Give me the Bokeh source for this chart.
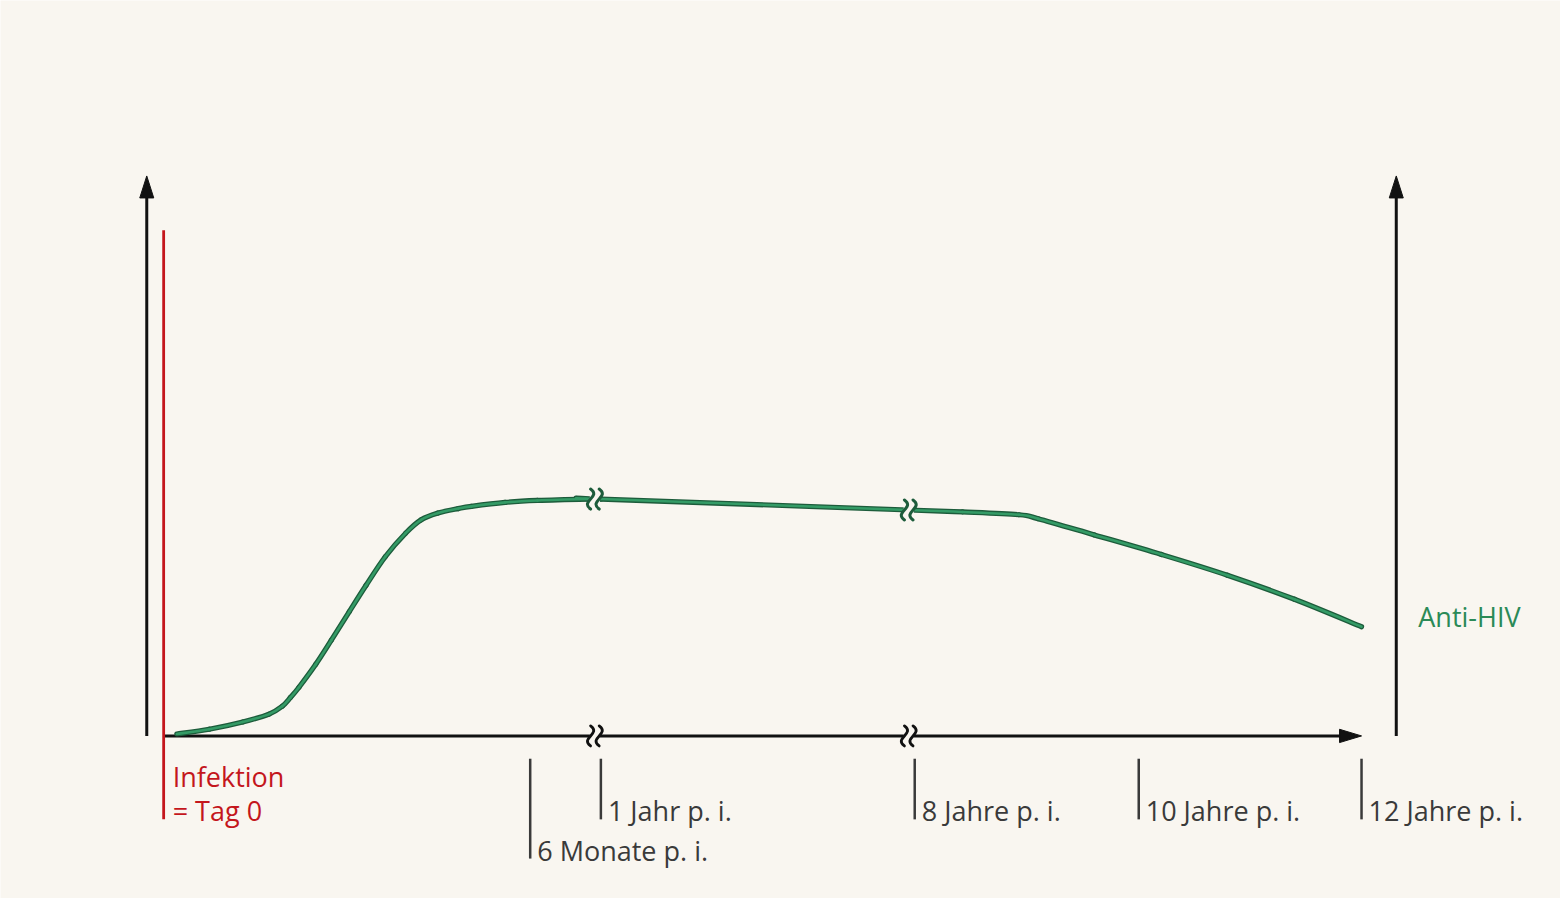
import numpy as np
from bokeh.plotting import figure
from bokeh.models import Range1d, ColumnDataSource
from bokeh.core.properties import value
from bokeh.embed import file_html
from bokeh.resources import INLINE

# ---------------- data (axis units: x 0 = infection, 100 = 12 years; y 0..100 = arrow tip)
curve_x = [1.1, 3.8, 6.6, 8.8, 9.9, 10.6, 11.3, 12.7, 14.0, 15.5, 16.9, 18.5, 20.2,
           21.5, 22.9, 24.6, 25.7, 28.5, 31.2, 35.4, 36.5, 62.2, 66.7, 71.4,
           73.0, 77.7, 83.3, 88.8, 94.4, 100.0]
curve_y = [0.35, 1.2, 2.5, 3.9, 5.3, 6.9, 8.7, 12.8, 17.1, 22.2, 26.9, 32.0, 36.2,
           38.6, 39.8, 40.6, 41.0, 41.7, 42.05, 42.3, 42.3, 40.35, 40.0, 39.5,
           38.8, 35.9, 32.4, 28.7, 24.4, 19.5]
series_label = "Anti-HIV"

tick_pos = [30.6, 36.5, 62.7, 81.4, 100.0]
tick_labels = ["6 Monate p. i.", "1 Jahr p. i.", "8 Jahre p. i.", "10 Jahre p. i.", "12 Jahre p. i."]
tick_row = [1, 0, 0, 0, 0]

break_x = [36.0, 62.2]

infection_x = 0.0
infection_labels = ["Infektion", "= Tag 0"]

# ---------------- styles
BG = "#f9f6f0"
INK = "#111111"
GRAY = "#3a3a3a"
RED = "#c4161c"
GREEN = "#349b66"
GREEN_DARK = "#1d5c3b"
GREEN_TEXT = "#2b8a57"
FONT = "Open Sans"
FS = "27px"
PXX = 12.04 * 1560 / 1568   # screen px per x unit
PXY = 5.65 * 898 / 906      # screen px per y unit

p = figure(width=1560, height=898,
           x_range=Range1d(-13.62, 116.61), y_range=Range1d(-29.03, 131.33),
           output_backend="svg", toolbar_location=None, min_border=0,
           background_fill_color=BG, border_fill_color=BG, outline_line_color=None,
           x_axis_location=None, y_axis_location=None)
p.grid.visible = False

left_axis_x = -1.41
right_axis_x = 102.9
y_top = 100.0
x_end = 100.0
headL, headW = 22.0, 14.0

# vertical axes
for ax in (left_axis_x, right_axis_x):
    p.segment(x0=[ax], y0=[0], x1=[ax], y1=[y_top - headL / PXY * 0.6], line_color=INK, line_width=3)
    p.patch(x=[ax, ax - headW / 2 / PXX, ax + headW / 2 / PXX],
            y=[y_top, y_top - headL / PXY, y_top - headL / PXY], color=INK)

# horizontal axis
p.segment(x0=[infection_x], y0=[0], x1=[x_end - headL / PXX * 0.6], y1=[0], line_color=INK, line_width=3)
p.patch(x=[x_end, x_end - headL / PXX, x_end - headL / PXX],
        y=[0, headW / 2 / PXY * 0.95, -headW / 2 / PXY * 0.95], color=INK)

# infection line
p.segment(x0=[infection_x], y0=[-14.9], x1=[infection_x], y1=[90.3], line_color=RED, line_width=2.8)

# curve: smooth Catmull-Rom bezier segments through the read points
cx = np.array(curve_x); cy = np.array(curve_y)
px_ = np.concatenate([[cx[0]], cx, [cx[-1]]]); py_ = np.concatenate([[cy[0]], cy, [cy[-1]]])
n = len(cx)
seg = dict(
    x0=cx[:-1], y0=cy[:-1], x1=cx[1:], y1=cy[1:],
    cx0=cx[:-1] + (px_[2:n + 1] - px_[0:n - 1]) / 6, cy0=cy[:-1] + (py_[2:n + 1] - py_[0:n - 1]) / 6,
    cx1=cx[1:] - (px_[3:n + 2] - px_[1:n]) / 6, cy1=cy[1:] - (py_[3:n + 2] - py_[1:n]) / 6,
)
seg_src = ColumnDataSource(seg)
p.bezier(x0="x0", y0="y0", x1="x1", y1="y1", cx0="cx0", cy0="cy0", cx1="cx1", cy1="cy1",
         source=seg_src, line_color=GREEN_DARK, line_width=5.2, line_cap="round")
p.bezier(x0="x0", y0="y0", x1="x1", y1="y1", cx0="cx0", cy0="cy0", cx1="cx1", cy1="cy1",
         source=seg_src, line_color=GREEN, line_width=2.6, line_cap="round")

# break marks on axis and curve
break_curve_y = list(np.interp(break_x, curve_x, curve_y))
def squiggles(xb, yb, color, lw):
    p.rect(x=xb, y=yb, width=[10] * len(xb), height=[14] * len(xb),
           width_units="screen", height_units="screen", fill_color=BG, line_color=None)
    h = 10.0 / PXY
    d = 11.0 / PXX
    for off in (-4.3 / PXX, 4.3 / PXX):
        xs = [x + off for x in xb]
        p.bezier(x0=xs, y0=[y - h for y in yb], x1=xs, y1=[y + h for y in yb],
                 cx0=[x - d for x in xs], cy0=[y - h * 0.2 for y in yb],
                 cx1=[x + d for x in xs], cy1=[y + h * 0.2 for y in yb],
                 line_color=color, line_width=lw, line_cap="round")

squiggles(break_x, [0, 0], INK, 2.8)
squiggles(break_x, break_curve_y, GREEN_DARK, 3.0)

# time ticks and labels
tick_top = -4.07
row_bottom = [-14.9, -21.9]
row_text = [-13.3, -20.4]
src = ColumnDataSource(dict(
    x=tick_pos,
    y0=[tick_top] * len(tick_pos),
    y1=[row_bottom[r] for r in tick_row],
    ty=[row_text[r] for r in tick_row],
    label=tick_labels))
p.segment(x0="x", y0="y0", x1="x", y1="y1", source=src, line_color=GRAY, line_width=2.5)
p.text(x="x", y="ty", text="label", source=src, x_offset=7,
       text_font=value(FONT), text_font_size=FS, text_color=GRAY,
       text_align="left", text_baseline="middle")

# infection label
p.text(x=[infection_x] * 2, y=[-7.2, -13.3], text=infection_labels, x_offset=9,
       text_font=value(FONT), text_font_size=FS, text_color=RED,
       text_align="left", text_baseline="middle")

# series label
p.text(x=[right_axis_x], y=[21.3], text=[series_label], x_offset=22,
       text_font=value(FONT), text_font_size=FS, text_color=GREEN_TEXT,
       text_align="left", text_baseline="middle")

open("out.html", "w").write(file_html(p, INLINE))
